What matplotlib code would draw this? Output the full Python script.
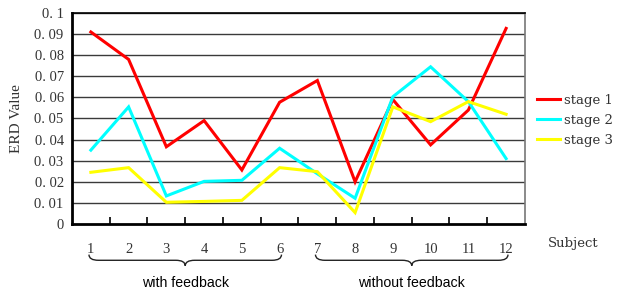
import matplotlib
matplotlib.use("Agg")
import matplotlib.pyplot as plt
from matplotlib.path import Path
from matplotlib.patches import PathPatch
import matplotlib.transforms as mtransforms

subjects = ["1", "2", "3", "4", "5", "6", "7", "8", "9", "10", "11", "12"]
stage1 = [0.091, 0.078, 0.0366, 0.049, 0.0256, 0.0577, 0.068, 0.020, 0.059, 0.0375, 0.054, 0.0927]
stage2 = [0.035, 0.0555, 0.0133, 0.0202, 0.0207, 0.0359, 0.0238, 0.0122, 0.0603, 0.0745, 0.058, 0.031]
stage3 = [0.0245, 0.0267, 0.0103, 0.0107, 0.0112, 0.0267, 0.0248, 0.0054, 0.0555, 0.0485, 0.058, 0.052]
series_names = ["stage 1", "stage 2", "stage 3"]
colors = ["#ff0000", "#00ffff", "#ffff00"]
groups = [("with feedback", 1, 6), ("without feedback", 7, 12)]
yticks = [0, 0.01, 0.02, 0.03, 0.04, 0.05, 0.06, 0.07, 0.08, 0.09, 0.1]
ytick_labels = ["0", "0. 01", "0. 02", "0. 03", "0. 04", "0. 05", "0. 06", "0. 07", "0. 08", "0. 09", "0. 1"]

serif = ["Liberation Serif", "DejaVu Serif"]
wide_serif = ["DejaVu Serif", "Liberation Serif"]
fig = plt.figure(figsize=(6.27, 2.92), dpi=100)
ax = fig.add_axes([0.1148, 0.2329, 0.7225, 0.7226])

x = list(range(1, len(subjects) + 1))
handles = []
for vals, name, c in zip([stage1, stage2, stage3], series_names, colors):
    h, = ax.plot(x, vals, color=c, lw=2.2, label=name, zorder=3, solid_joinstyle="miter")
    handles.append(h)

ax.set_xlim(0.5, len(subjects) + 0.5)
ax.set_ylim(0, 0.1)
ax.set_yticks(yticks)
ax.set_yticklabels(ytick_labels, fontfamily=serif, fontsize=10.5, color="#333333")
ax.tick_params(axis="y", length=0, pad=6)
for yv in yticks[1:]:
    ax.axhline(yv, color="#3a3a3a", lw=1.0, zorder=1)

# boundary ticks (inward) and centered labels
ax.set_xticks([i + 0.5 for i in range(1, len(subjects))])
ax.set_xticklabels([])
ax.tick_params(axis="x", which="major", direction="in", length=5, width=1.2, color="black")
ax.set_xticks(x, minor=True)
ax.set_xticklabels(subjects, minor=True, fontfamily=serif, fontsize=10.5, color="#333333")
ax.tick_params(axis="x", which="minor", length=0, pad=14)

for s in ["left", "bottom"]:
    ax.spines[s].set_linewidth(2.0)
    ax.spines[s].set_color("black")
ax.spines["top"].set_linewidth(1.2)
ax.spines["top"].set_color("black")
ax.spines["right"].set_linewidth(1.2)
ax.spines["right"].set_color("#777777")

ax.set_ylabel("ERD Value", fontfamily=serif, fontsize=11, color="#333333", labelpad=8)

# braces
trans = mtransforms.blended_transform_factory(ax.transData, ax.transAxes)
for label, a, b in groups:
    x0, x1 = a - 0.05, b + 0.05
    xm = (x0 + x1) / 2
    yt, yb, yp = -0.145, -0.172, -0.198
    r = 0.25
    verts = [(x0, yt), (x0, yb), (x0 + r, yb),
             (xm - r, yb), (xm, yb), (xm, yp),
             (xm, yb), (xm + r, yb),
             (x1 - r, yb), (x1, yb), (x1, yt)]
    codes = [Path.MOVETO, Path.CURVE3, Path.CURVE3,
             Path.LINETO, Path.CURVE3, Path.CURVE3,
             Path.CURVE3, Path.CURVE3,
             Path.LINETO, Path.CURVE3, Path.CURVE3]
    patch = PathPatch(Path(verts, codes), transform=trans, fill=False,
                      lw=1.0, color="#222222", clip_on=False)
    ax.add_patch(patch)
    ax.text(xm, -0.28, label, transform=trans, ha="center", va="center",
            fontfamily=["Liberation Sans", "DejaVu Sans"], fontsize=10.2, color="black")

fig.text(0.874, 0.165, "Subject", fontfamily=wide_serif, fontsize=9.5, color="#333333",
         ha="left", va="center")

fig.legend(handles=handles, loc="center left", bbox_to_anchor=(0.838, 0.588),
           frameon=False, handlelength=1.75, handletextpad=0.25, labelspacing=0.55,
           prop={"family": wide_serif, "size": 9.5}, labelcolor="#333333")

fig.savefig("out.png", dpi=100)
